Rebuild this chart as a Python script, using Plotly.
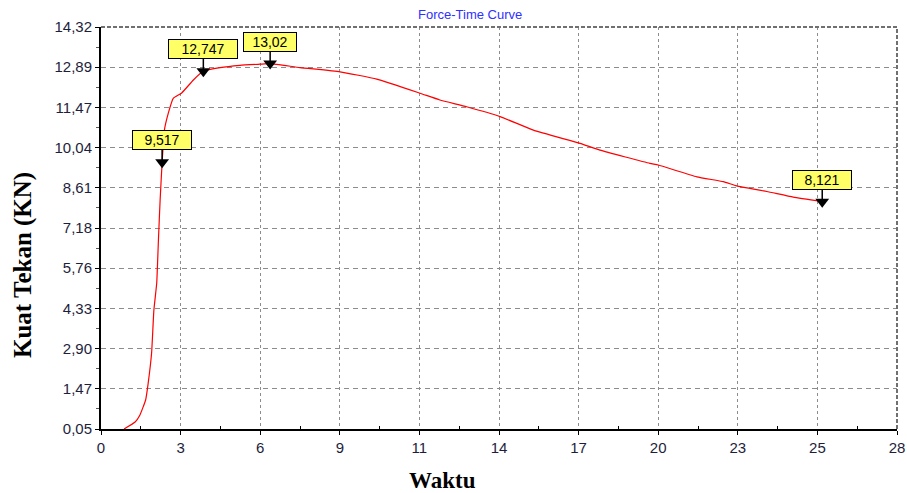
import plotly.graph_objects as go

# Force-time record of the compression test
waktu = [0.81, 1.20, 1.37, 1.57, 1.66, 1.78, 1.86, 1.96, 2.02, 2.08, 2.15, 2.23, 2.37,
         2.54, 2.84, 3.25, 3.60, 4.19, 4.89, 5.59, 5.95, 7.00, 8.41, 9.70, 11.22,
         11.92, 12.86, 14.04, 15.21, 16.85, 17.55, 19.31, 19.60, 20.96, 21.89,
         22.36, 23.42, 24.35, 25.37]
kuat_tekan = [0.05, 0.30, 0.55, 1.08, 1.68, 2.75, 4.27, 5.23, 6.76, 8.18, 9.517, 10.66,
              11.27, 11.79, 11.98, 12.44, 12.747, 12.88, 12.96, 13.00, 13.02, 12.88,
              12.73, 12.47, 11.97, 11.73, 11.49, 11.14, 10.66, 10.19, 9.95, 9.48,
              9.42, 9.00, 8.83, 8.68, 8.48, 8.28, 8.121]

# Marked points on the curve
titik_waktu = [2.15, 3.60, 5.95, 25.37]
titik_nilai = [9.517, 12.747, 13.02, 8.121]
titik_label = ["9,517", "12,747", "13,02", "8,121"]
label_lebar = [56, 66, 50, 56]

# Axis ticks
x_tickvals = [0, 2.8, 5.6, 8.4, 11.2, 14.0, 16.8, 19.6, 22.4, 25.2, 28.0]
x_ticktext = ["0", "3", "6", "9", "11", "14", "17", "20", "23", "25", "28"]
y_tickvals = [0.05 + i * 1.427 for i in range(11)]
y_ticktext = ["0,05", "1,47", "2,90", "4,33", "5,76", "7,18", "8,61",
              "10,04", "11,47", "12,89", "14,32"]

x_minor = [(a + b) / 2 for a, b in zip(x_tickvals[:-1], x_tickvals[1:])]
y_minor = [(a + b) / 2 for a, b in zip(y_tickvals[:-1], y_tickvals[1:])]

tick_font = dict(family="Liberation Sans, Arial", size=15, color="#1e1e3c")

fig = go.Figure()
fig.add_trace(go.Scatter(
    x=waktu, y=kuat_tekan, mode="lines", line_shape="spline",
    line=dict(color="#ff0000", width=1.2, smoothing=0.4),
    hoverinfo="skip", showlegend=False))
fig.add_trace(go.Scatter(
    x=titik_waktu, y=titik_nilai, mode="markers",
    marker=dict(symbol="triangle-down", size=12, color="black"),
    showlegend=False, cliponaxis=False))

for xv, yv, txt, w in zip(titik_waktu, titik_nilai, titik_label, label_lebar):
    fig.add_annotation(
        x=xv, y=yv, text=txt, showarrow=True, arrowhead=0, arrowwidth=1.5,
        arrowcolor="black", ax=0, ay=-22, bgcolor="#ffff66",
        bordercolor="black", borderwidth=1, borderpad=1, width=w,
        font=dict(family="Liberation Sans, Arial", size=14, color="black"))

# Chart title and axis captions
fig.add_annotation(
    x=0.4636, y=1.032, xref="paper", yref="paper", showarrow=False,
    text="Force-Time Curve", xanchor="center", yanchor="middle",
    font=dict(family="Liberation Sans, Arial", size=13, color="#3030ff"))
fig.add_annotation(
    x=0.4296, y=-0.127, xref="paper", yref="paper", showarrow=False,
    text="<b>Waktu</b>", xanchor="center", yanchor="middle",
    font=dict(family="Liberation Serif, Times New Roman", size=23, color="black"))
fig.add_annotation(
    x=-0.098, y=0.408, xref="paper", yref="paper", showarrow=False,
    text="<b>Kuat Tekan (KN)</b>", textangle=-90, xanchor="center", yanchor="middle",
    font=dict(family="Liberation Serif, Times New Roman", size=25, color="black"))

# Dashed top and right frame
fig.add_shape(type="line", xref="paper", yref="paper", x0=0, x1=1, y0=1, y1=1,
              line=dict(color="#707070", width=2, dash="4px,2px"))
fig.add_shape(type="line", xref="paper", yref="paper", x0=1, x1=1, y0=0, y1=1,
              line=dict(color="#707070", width=2, dash="4px,2px"))

fig.update_xaxes(
    range=[0, 28], tickvals=x_tickvals, ticktext=x_ticktext, tickfont=tick_font,
    automargin=False,
    showline=True, linecolor="black", linewidth=2, zeroline=False,
    showgrid=True, gridcolor="#8c8c8c", gridwidth=1, griddash="3px,3px",
    ticks="outside", ticklen=4, tickcolor="black",
    minor=dict(tickvals=x_minor, ticks="inside", ticklen=3, tickcolor="black",
               showgrid=False))
fig.update_yaxes(
    range=[0.05, 14.32], tickvals=y_tickvals, ticktext=y_ticktext, tickfont=tick_font,
    automargin=False,
    showline=True, linecolor="black", linewidth=2, zeroline=False,
    showgrid=True, gridcolor="#8c8c8c", gridwidth=1, griddash="5px,4px",
    ticks="outside", ticklen=4, tickcolor="black",
    minor=dict(tickvals=y_minor, ticks="outside", ticklen=3, tickcolor="#555",
               showgrid=False))

fig.update_layout(
    width=907, height=493, margin=dict(l=101, r=10, t=27, b=64),
    paper_bgcolor="white", plot_bgcolor="white", showlegend=False)

fig.write_html("out.html")
